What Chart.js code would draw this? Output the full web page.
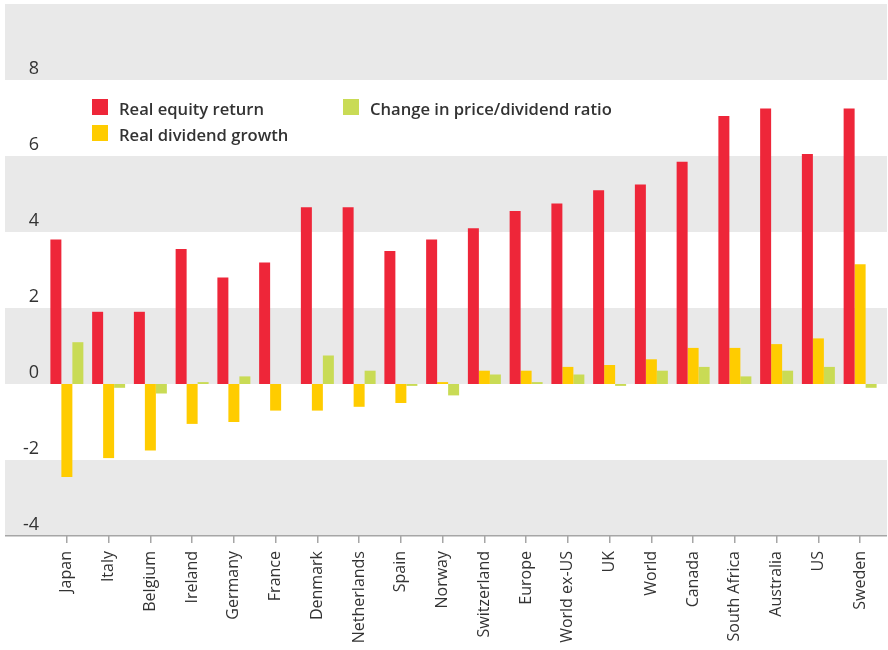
<!DOCTYPE html>
<html>
<head>
<meta charset="utf-8">
<script src="https://cdn.jsdelivr.net/npm/chart.js@4/dist/chart.umd.min.js"></script>
<style>
  html, body { margin: 0; padding: 0; background: #ffffff; }
  #wrap { width: 888px; height: 650px; position: relative; }
</style>
</head>
<body>
<div id="wrap"><canvas id="chart"></canvas></div>
<script>
// Annualised real returns and their components, % per year
const categories = ['Japan', 'Italy', 'Belgium', 'Ireland', 'Germany', 'France', 'Denmark',
  'Netherlands', 'Spain', 'Norway', 'Switzerland', 'Europe', 'World ex-US', 'UK', 'World',
  'Canada', 'South Africa', 'Australia', 'US', 'Sweden'];

const realEquityReturn = [3.8, 1.9, 1.9, 3.55, 2.8, 3.2, 4.65, 4.65, 3.5, 3.8,
  4.1, 4.55, 4.75, 5.1, 5.25, 5.85, 7.05, 7.25, 6.05, 7.25];

const realDividendGrowth = [-2.45, -1.95, -1.75, -1.05, -1.0, -0.7, -0.7, -0.6, -0.5, 0.05,
  0.35, 0.35, 0.45, 0.5, 0.65, 0.95, 0.95, 1.05, 1.2, 3.15];

const changeInPriceDividend = [1.1, -0.1, -0.25, 0.05, 0.2, 0, 0.75, 0.35, -0.05, -0.3,
  0.25, 0.05, 0.25, -0.05, 0.35, 0.45, 0.2, 0.35, 0.45, -0.1];

const seriesLabels = ['Real equity return', 'Real dividend growth', 'Change in price/dividend ratio'];
const seriesColors = ['#ee2639', '#ffcc00', '#c9db55'];

const yMin = -4, yMax = 10, yStep = 2;
// Shaded horizontal bands (value ranges)
const bandRanges = [[-4, -2], [0, 2], [4, 6], [8, 10]];

const TEXT = '#333333';
const FONT = "'Open Sans', 'DejaVu Sans', sans-serif";

// Alternating background bands plus a full-width baseline axis
const bandsPlugin = {
  id: 'bands',
  beforeDraw(chart) {
    const { ctx } = chart;
    const y = chart.scales.y;
    const left = 5, right = chart.width - 1;
    ctx.save();
    ctx.fillStyle = '#e9e9e9';
    bandRanges.forEach(([a, b]) => {
      const top = y.getPixelForValue(b);
      const bot = y.getPixelForValue(a);
      ctx.fillRect(left, top, right - left, bot - top);
    });
    ctx.restore();
  },
  afterDatasetsDraw(chart) {
    const { ctx } = chart;
    const y = chart.scales.y;
    const base = Math.round(y.getPixelForValue(yMin)) - 0.25;
    ctx.save();
    ctx.strokeStyle = '#a6a6a6';
    ctx.lineWidth = 1.5;
    ctx.beginPath();
    ctx.moveTo(5, base);
    ctx.lineTo(chart.width - 1, base);
    ctx.stroke();
    ctx.restore();
  }
};

// Two-column legend drawn inside the plot
const legendPlugin = {
  id: 'inlineLegend',
  afterDraw(chart) {
    const { ctx } = chart;
    const slots = [
      { x: 92, y: 99 },
      { x: 92, y: 125 },
      { x: 343, y: 99 }
    ];
    ctx.save();
    ctx.font = `600 16.6px ${FONT}`;
    ctx.textBaseline = 'alphabetic';
    ctx.textAlign = 'left';
    chart.data.datasets.forEach((ds, i) => {
      const s = slots[i];
      ctx.fillStyle = ds.backgroundColor;
      ctx.fillRect(s.x, s.y, 16, 16);
      ctx.fillStyle = TEXT;
      ctx.fillText(ds.label, s.x + 27, s.y + 16);
    });
    ctx.restore();
  }
};

new Chart(document.getElementById('chart'), {
  type: 'bar',
  data: {
    labels: categories,
    datasets: [
      { label: seriesLabels[0], data: realEquityReturn, backgroundColor: seriesColors[0] },
      { label: seriesLabels[1], data: realDividendGrowth, backgroundColor: seriesColors[1] },
      { label: seriesLabels[2], data: changeInPriceDividend, backgroundColor: seriesColors[2] }
    ]
  },
  options: {
    responsive: true,
    maintainAspectRatio: false,
    animation: false,
    layout: { padding: { left: 5, right: 7, top: 4, bottom: 0 } },
    datasets: { bar: { categoryPercentage: 0.79, barPercentage: 1.0, borderWidth: 0 } },
    plugins: {
      legend: { display: false },
      tooltip: { enabled: false },
      title: { display: false }
    },
    scales: {
      x: {
        grid: { display: true, drawOnChartArea: false, drawTicks: true, tickLength: 7, color: '#a6a6a6', lineWidth: 1.5, offset: false },
        border: { display: false },
        ticks: {
          color: TEXT,
          font: { family: FONT, size: 16 },
          minRotation: 90,
          maxRotation: 90,
          autoSkip: false,
          padding: 8
        },
        afterFit(scale) {
          scale.height = 114;
          scale.paddingLeft = 0;
          scale.paddingRight = 0;
        }
      },
      y: {
        min: yMin,
        max: yMax,
        grid: { display: false, drawTicks: false },
        border: { display: false },
        ticks: {
          stepSize: yStep,
          color: TEXT,
          font: { family: FONT, size: 18 },
          padding: 7,
          labelOffset: -11,
          callback: (v) => (v === yMax ? '' : String(v))
        },
        afterFit(scale) {
          scale.width = 41;
          scale.paddingTop = 0;
          scale.paddingBottom = 0;
        }
      }
    }
  },
  plugins: [bandsPlugin, legendPlugin]
});
</script>
</body>
</html>
